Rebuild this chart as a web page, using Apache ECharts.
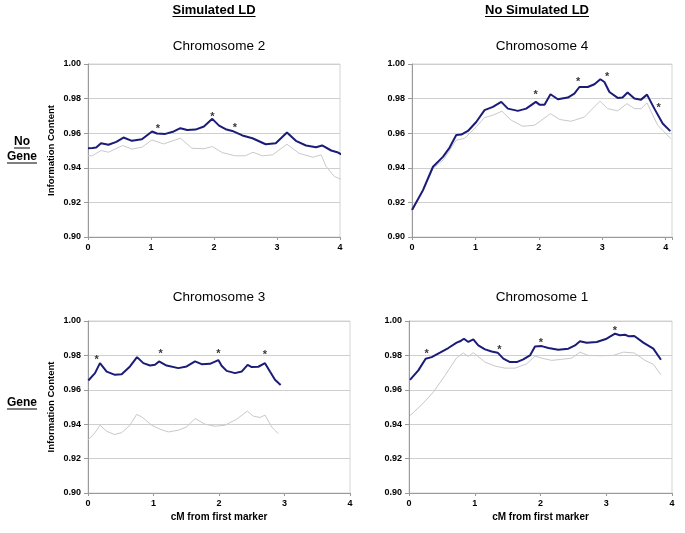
<!DOCTYPE html>
<html>
<head>
<meta charset="utf-8">
<script src="https://cdn.jsdelivr.net/npm/echarts@6/dist/echarts.min.js"></script>
<style>
html,body{margin:0;padding:0;background:#fff;}
#c{width:685px;height:533px;}
</style>
</head>
<body>
<div id="c"></div>
<script>
// ---------- data ----------
var colHeaders = ['Simulated LD', 'No Simulated LD'];
var rowHeaders = [['No', 'Gene'], ['Gene']];
var panelTitles = ['Chromosome 2', 'Chromosome 4', 'Chromosome 3', 'Chromosome 1'];
var yTicks = [0.90, 0.92, 0.94, 0.96, 0.98, 1.00];
var xTicks = [0, 1, 2, 3, 4];
var yName = 'Information Content';
var xName = 'cM from first marker';

// Chromosome 2 (Simulated LD, No Gene)
var chr2Dark = [[0,0.9513],[0.07,0.9515],[0.13,0.9517],[0.207,0.9542],[0.325,0.9533],[0.45,0.9550],[0.563,0.9575],[0.697,0.9556],[0.856,0.9565],[1.016,0.9610],[1.095,0.9598],[1.228,0.9596],[1.361,0.9610],[1.467,0.9629],[1.574,0.9619],[1.706,0.9621],[1.84,0.9639],[1.973,0.9683],[2.08,0.9644],[2.185,0.9623],[2.29,0.9613],[2.32,0.9617],[2.45,0.9587],[2.61,0.9571],[2.82,0.9536],[2.98,0.9542],[3.158,0.9604],[3.30,0.9556],[3.46,0.9529],[3.62,0.9519],[3.716,0.9529],[3.86,0.9500],[3.97,0.9488],[4.0,0.9495],[4.02,0.9478]];
var chr2Light = [[0,0.9469],[0.07,0.9470],[0.207,0.9500],[0.325,0.9490],[0.55,0.9529],[0.697,0.9508],[0.856,0.9519],[1.016,0.9561],[1.2,0.9538],[1.467,0.9571],[1.65,0.9513],[1.84,0.9510],[1.973,0.9523],[2.13,0.9488],[2.34,0.9469],[2.5,0.9470],[2.62,0.9490],[2.77,0.9469],[2.93,0.9475],[3.158,0.9536],[3.35,0.9484],[3.57,0.9461],[3.70,0.9475],[3.78,0.9407],[3.91,0.9350],[4.02,0.9333]];
var chr2Stars = [[1.11,0.9644],[1.973,0.9712],[2.33,0.9648],[4.03,0.9548]];

// Chromosome 4 (No Simulated LD, No Gene)
var chr4Dark = [[0,0.9156],[0.173,0.9271],[0.331,0.9406],[0.488,0.9463],[0.593,0.9517],[0.698,0.9590],[0.777,0.9592],[0.882,0.9613],[1.013,0.9665],[1.144,0.9733],[1.276,0.9752],[1.407,0.9781],[1.512,0.9742],[1.669,0.9729],[1.8,0.9742],[1.953,0.9781],[2.01,0.9765],[2.09,0.9765],[2.184,0.9825],[2.3,0.9796],[2.457,0.9806],[2.56,0.9829],[2.64,0.9867],[2.772,0.9867],[2.877,0.9883],[2.97,0.9912],[3.034,0.9896],[3.113,0.9838],[3.244,0.9804],[3.32,0.9806],[3.40,0.9835],[3.507,0.9800],[3.612,0.9794],[3.706,0.9823],[3.822,0.9742],[3.953,0.9656],[4.073,0.9612]];
var chr4Light = [[0,0.9150],[0.173,0.9262],[0.331,0.9396],[0.5,0.9448],[0.698,0.9560],[0.83,0.9570],[1.013,0.9637],[1.144,0.9690],[1.276,0.9704],[1.418,0.9727],[1.565,0.9675],[1.748,0.9640],[1.932,0.9646],[2.184,0.9713],[2.33,0.9679],[2.51,0.9669],[2.72,0.9694],[2.966,0.9785],[3.086,0.9742],[3.244,0.9729],[3.39,0.9771],[3.507,0.9742],[3.612,0.9742],[3.706,0.9775],[3.874,0.9646],[4.08,0.9569]];
var chr4Stars = [[1.948,0.9838],[2.62,0.9915],[3.076,0.9944],[3.89,0.9762]];

// Chromosome 3 (Simulated LD, Gene)
var chr3Dark = [[0.005,0.9654],[0.107,0.9697],[0.183,0.9755],[0.285,0.9706],[0.412,0.9687],[0.514,0.9690],[0.641,0.9736],[0.748,0.9790],[0.845,0.9755],[0.947,0.9741],[1.023,0.9745],[1.084,0.9765],[1.2,0.9741],[1.379,0.9726],[1.506,0.9736],[1.634,0.9765],[1.735,0.9749],[1.862,0.9751],[1.99,0.9773],[2.04,0.9740],[2.117,0.9710],[2.245,0.9697],[2.346,0.9706],[2.437,0.9745],[2.5,0.9732],[2.6,0.9734],[2.702,0.9755],[2.778,0.9706],[2.855,0.9658],[2.941,0.9628]];
var chr3Light = [[0.005,0.9310],[0.107,0.9351],[0.183,0.9394],[0.285,0.9359],[0.402,0.9340],[0.514,0.9351],[0.641,0.9394],[0.743,0.9457],[0.82,0.9443],[0.972,0.9394],[1.1,0.9371],[1.226,0.9355],[1.379,0.9365],[1.506,0.9384],[1.634,0.9433],[1.786,0.9400],[1.939,0.9388],[2.09,0.9394],[2.27,0.9429],[2.432,0.9476],[2.524,0.9447],[2.626,0.9439],[2.702,0.9453],[2.804,0.9384],[2.906,0.9345]];
var chr3Stars = [[0.132,0.9788],[1.11,0.9823],[1.99,0.9823],[2.702,0.9818]];

// Chromosome 1 (No Simulated LD, Gene)
var chr1Dark = [[0.015,0.9658],[0.142,0.9713],[0.253,0.9781],[0.345,0.9790],[0.471,0.9816],[0.598,0.9843],[0.725,0.9874],[0.776,0.9882],[0.836,0.9897],[0.902,0.9878],[0.978,0.9893],[1.054,0.9858],[1.156,0.9835],[1.257,0.9823],[1.348,0.9816],[1.435,0.9781],[1.536,0.9761],[1.638,0.9761],[1.738,0.9777],[1.84,0.9800],[1.916,0.9852],[2.018,0.9854],[2.12,0.9843],[2.27,0.9833],[2.424,0.9839],[2.525,0.9858],[2.6,0.9882],[2.702,0.9874],[2.855,0.9878],[3.006,0.9897],[3.133,0.9926],[3.209,0.9917],[3.285,0.9920],[3.346,0.9911],[3.427,0.9913],[3.564,0.9874],[3.716,0.9839],[3.832,0.9775]];
var chr1Light = [[0.015,0.9450],[0.193,0.9513],[0.37,0.9586],[0.547,0.9683],[0.725,0.9786],[0.826,0.9814],[0.902,0.9794],[0.978,0.9816],[1.156,0.9761],[1.308,0.9738],[1.46,0.9726],[1.612,0.9726],[1.79,0.9751],[1.916,0.9796],[2.018,0.9784],[2.17,0.9771],[2.32,0.9777],[2.474,0.9784],[2.6,0.9819],[2.727,0.9800],[2.93,0.9798],[3.107,0.9800],[3.26,0.9819],[3.427,0.9814],[3.59,0.9771],[3.716,0.9748],[3.832,0.9687]];
var chr1Stars = [[0.268,0.9823],[1.373,0.9849],[2.007,0.9891],[3.133,0.9961]];

var panelDark = [chr2Dark, chr4Dark, chr3Dark, chr1Dark];
var panelLight = [chr2Light, chr4Light, chr3Light, chr1Light];
var panelStars = [chr2Stars, chr4Stars, chr3Stars, chr1Stars];
var panelXMax = [4, 4.1, 4, 4];

// ---------- layout ----------
var grids = [
  {left: 88, top: 64, width: 252, height: 173},
  {left: 412, top: 64, width: 260, height: 173},
  {left: 88, top: 321, width: 262, height: 172},
  {left: 409, top: 321, width: 263, height: 172}
];
var FONT = '"Liberation Sans", Arial, sans-serif';
var dark = '#1b1b78';
var light = '#c9c9c9';

var chart = echarts.init(document.getElementById('c'), null, {renderer: 'canvas'});

var xAxes = [], yAxes = [], series = [], graphics = [];
grids.forEach(function (g, i) {
  g.show = true; g.borderColor = '#d4d4d4'; g.borderWidth = 1; g.backgroundColor = 'transparent';
  xAxes.push({
    type: 'value', gridIndex: i, min: 0, max: panelXMax[i], interval: 1,
    name: i >= 2 ? xName : '', nameLocation: 'middle', nameGap: 19,
    nameTextStyle: {fontFamily: FONT, fontSize: 10, fontWeight: 'bold', color: '#000'},
    axisLine: {show: true, lineStyle: {color: '#9a9a9a', width: 1}},
    axisTick: {show: true, length: 3, lineStyle: {color: '#9a9a9a'}},
    axisLabel: {fontFamily: FONT, fontSize: 9, fontWeight: 'bold', color: '#000', margin: 6,
      formatter: function (v) { return xTicks.indexOf(Math.round(v * 1000) / 1000) >= 0 ? String(v) : ''; }},
    splitLine: {show: false}
  });
  yAxes.push({
    type: 'value', gridIndex: i, min: 0.90, max: 1.00, interval: 0.02,
    name: (i % 2 === 0) ? yName : '', nameLocation: 'middle', nameGap: 32, nameRotate: 90,
    nameTextStyle: {fontFamily: FONT, fontSize: 9.5, fontWeight: 'bold', color: '#000'},
    axisLine: {show: true, lineStyle: {color: '#9a9a9a', width: 1}},
    axisTick: {show: true, length: 4, lineStyle: {color: '#9a9a9a'}},
    axisLabel: {fontFamily: FONT, fontSize: 9, fontWeight: 'bold', color: '#000', margin: 7,
      formatter: function (v) { return v.toFixed(2); }},
    splitLine: {show: true, lineStyle: {color: '#cfcfcf', width: 1}}
  });
  series.push({
    type: 'line', xAxisIndex: i, yAxisIndex: i, data: panelLight[i], showSymbol: false,
    lineStyle: {color: light, width: 1}, z: 2, animation: false
  });
  series.push({
    type: 'line', xAxisIndex: i, yAxisIndex: i, data: panelDark[i], showSymbol: false,
    lineStyle: {color: dark, width: 2}, z: 3, animation: false
  });
  series.push({
    type: 'scatter', xAxisIndex: i, yAxisIndex: i, data: panelStars[i], symbolSize: 1,
    itemStyle: {color: 'rgba(0,0,0,0)'}, z: 4, animation: false,
    label: {show: true, position: 'inside', formatter: '*', fontFamily: FONT, fontSize: 11,
      fontWeight: 'bold', color: '#000', offset: [0, 3]}
  });
});

// headers
var measure = document.createElement('canvas').getContext('2d');
function textW(txt, size, weight) {
  measure.font = weight + ' ' + size + 'px "Liberation Sans", Arial, sans-serif';
  return measure.measureText(txt).width;
}
function underlinedText(txt, cx, cy, size) {
  var w = textW(txt, size, 'bold');
  graphics.push({type: 'text', left: cx - w / 2, top: cy - size / 2,
    style: {text: txt, fontFamily: FONT, fontSize: size, fontWeight: 'bold', fill: '#000'}});
  graphics.push({type: 'line', shape: {x1: cx - w / 2, y1: cy + size / 2, x2: cx + w / 2, y2: cy + size / 2},
    style: {stroke: '#000', lineWidth: 1}});
}
underlinedText(colHeaders[0], 214, 10, 13);
underlinedText(colHeaders[1], 537, 10, 13);
underlinedText(rowHeaders[0][0], 22, 142, 12);
underlinedText(rowHeaders[0][1], 22, 157, 12);
underlinedText(rowHeaders[1][0], 22, 403, 12);

var titles = [
  {text: panelTitles[0], left: 214, top: 34},
  {text: panelTitles[1], left: 537, top: 34},
  {text: panelTitles[2], left: 214, top: 285},
  {text: panelTitles[3], left: 537, top: 285}
].map(function (t) {
  return {text: t.text, left: t.left, top: t.top, textAlign: 'center',
    textStyle: {fontFamily: FONT, fontSize: 13.5, fontWeight: 'normal', color: '#000'}};
});

chart.setOption({
  animation: false,
  backgroundColor: '#fff',
  title: titles,
  grid: grids,
  xAxis: xAxes,
  yAxis: yAxes,
  series: series,
  graphic: graphics
});
</script>
</body>
</html>
